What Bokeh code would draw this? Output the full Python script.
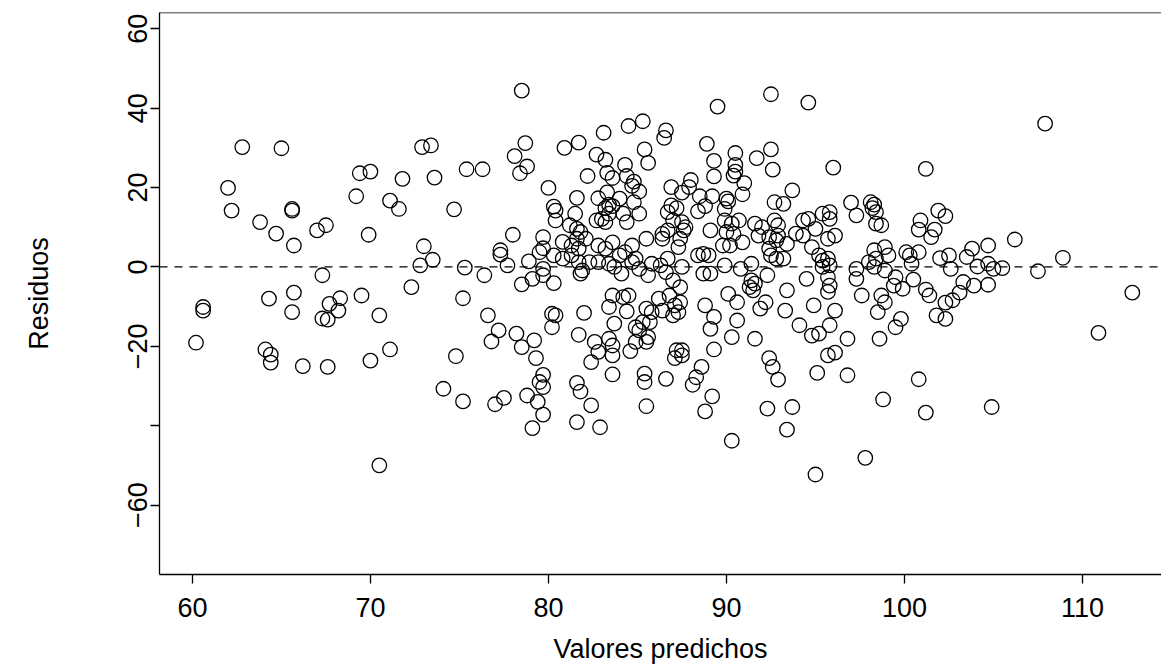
from bokeh.plotting import figure
from bokeh.models import Span, Range1d
from bokeh.embed import file_html
from bokeh.resources import INLINE

# (valor predicho, residuo), grouped by region
zona_izquierda = [
    (62.8, 30.2), (65.0, 29.9), (62.0, 19.9), (69.4, 23.6), (70.0, 24.0), (71.8, 22.2),
    (69.2, 17.8), (71.1, 16.7), (71.6, 14.6), (62.2, 14.2), (65.6, 14.6), (65.6, 14.2),
    (63.8, 11.3), (64.7, 8.4), (65.7, 5.4), (67.0, 9.2), (67.5, 10.5), (69.9, 8.1),
    (67.3, -2.1), (65.7, -6.5), (64.3, -8.0), (69.5, -7.2), (68.3, -7.9), (67.7, -9.3),
    (68.2, -11.0), (65.6, -11.4), (67.3, -13.0), (67.6, -13.3), (70.5, -12.2), (60.6, -10.1),
    (60.6, -11.0), (60.2, -19.1), (64.1, -20.8), (64.4, -22.1), (64.4, -24.1), (66.2, -25.0),
    (67.6, -25.2), (70.0, -23.6), (71.1, -20.8), (70.5, -50.0),
]
zona_centro_alta = [
    (78.5, 44.4), (72.9, 30.2), (73.4, 30.6), (78.7, 31.2), (78.1, 27.9), (78.8, 25.3),
    (78.4, 23.6), (75.4, 24.6), (76.3, 24.6), (73.6, 22.5), (74.7, 14.5), (80.0, 19.9),
    (80.9, 30.0), (81.7, 31.3), (83.1, 33.8), (84.5, 35.5), (85.3, 36.7), (82.7, 28.3),
    (83.2, 27.0), (85.4, 29.6), (85.6, 26.2), (84.3, 25.7), (83.3, 23.7), (83.6, 22.4),
    (82.2, 22.9), (84.4, 22.9), (84.8, 21.5), (84.7, 20.4), (85.1, 19.0), (83.3, 18.8),
    (84.0, 17.2), (82.8, 17.3), (81.6, 17.4), (84.8, 16.3), (83.4, 15.7), (83.6, 15.3),
    (83.2, 14.8), (80.3, 15.2), (80.4, 14.2), (81.5, 13.4), (84.2, 13.4), (85.1, 13.4),
    (92.5, 43.5), (89.5, 40.4), (94.6, 41.4), (86.6, 34.4), (86.5, 32.5), (88.9, 31.0),
    (92.5, 29.6), (90.5, 28.7), (89.3, 26.7), (91.7, 27.4), (90.5, 25.7), (90.5, 24.0),
    (90.4, 23.0), (92.6, 24.5), (96.0, 25.0), (89.3, 22.8), (91.0, 21.1), (88.0, 21.9),
    (86.9, 20.1), (87.9, 20.1), (87.5, 18.7), (93.7, 19.3), (90.9, 18.3), (88.5, 17.8),
    (89.2, 17.8), (90.0, 17.2), (90.1, 16.5), (92.7, 16.3), (93.2, 15.9), (97.0, 16.2),
    (98.1, 16.3), (98.3, 15.7), (98.2, 14.8), (86.9, 15.5), (87.2, 14.8), (88.8, 15.3),
    (88.4, 14.0), (89.9, 14.6),
]
zona_derecha = [
    (107.9, 36.1), (101.2, 24.7), (101.9, 14.2), (102.3, 12.8), (100.9, 11.7), (100.8, 9.4),
    (101.7, 9.4), (101.5, 7.5), (100.1, 3.7), (100.3, 2.9), (100.4, 0.8), (100.8, 3.7),
    (102.0, 2.2), (102.5, 2.9), (102.6, -0.5), (103.8, 4.6), (103.5, 2.5), (104.7, 5.4),
    (106.2, 6.9), (104.1, 0.1), (104.7, 0.8), (105.0, -0.5), (105.5, -0.3), (107.5, -1.1),
    (108.9, 2.3), (100.5, -3.2), (101.2, -5.7), (101.4, -7.2), (103.3, -3.8), (103.9, -4.7),
    (104.7, -4.5), (103.1, -6.5), (102.7, -8.4), (102.3, -9.0), (101.8, -12.2), (102.3, -13.1),
    (112.8, -6.5), (110.9, -16.6), (100.8, -28.3), (101.2, -36.7), (104.9, -35.3),
]
zona_centro_baja = [
    (87.2, -21.0), (87.5, -21.0), (87.5, -22.3), (87.1, -23.0), (89.3, -20.8), (88.6, -25.2),
    (88.3, -27.8), (88.1, -29.7), (86.6, -28.2), (89.2, -32.6), (88.8, -36.4), (92.4, -23.0),
    (92.6, -25.2), (92.9, -28.4), (92.3, -35.7), (93.7, -35.3), (93.4, -41.0), (90.3, -43.8),
    (95.7, -22.3), (96.1, -21.6), (95.1, -26.7), (96.8, -27.3), (98.8, -33.4), (97.8, -48.1),
    (95.0, -52.3),
    (74.8, -22.5), (78.5, -20.2), (79.3, -23.0), (74.1, -30.7), (75.2, -33.9), (77.0, -34.6),
    (77.5, -33.0), (78.8, -32.4), (79.4, -34.0), (79.7, -27.2), (79.5, -29.0), (79.7, -30.3),
    (79.7, -37.2), (79.1, -40.6), (81.6, -29.2), (81.8, -31.4), (82.4, -34.9), (81.6, -39.1),
    (82.9, -40.4), (82.8, -21.4), (82.4, -24.0), (83.6, -19.8), (83.6, -22.3), (83.6, -27.1),
    (84.6, -21.2), (85.4, -26.9), (85.4, -29.0), (85.5, -35.1),
]
zona_centro_a = [
    (78.0, 8.1), (73.0, 5.2), (73.5, 1.8), (72.8, 0.4), (72.3, -5.1), (75.3, -0.2),
    (76.4, -2.1), (77.3, 4.2), (77.3, 3.1), (77.7, 0.4), (75.2, -7.9), (76.6, -12.2),
    (77.2, -16.0), (78.2, -16.8), (79.2, -18.5), (76.8, -18.8), (78.5, -4.4), (79.1, -3.0),
    (78.9, 1.4), (79.7, -0.5), (79.7, -2.1), (80.3, -4.1), (79.5, 3.7), (79.7, 4.7),
    (79.7, 7.5), (80.3, 2.9), (80.2, -11.8), (80.4, -12.2), (80.2, -15.2), (82.0, -11.6),
    (81.7, -17.1), (80.4, 11.7), (81.2, 10.5), (81.6, 9.6), (81.8, 8.8), (80.8, 6.3),
    (81.3, 5.4), (81.7, 4.6), (82.1, 7.1), (81.6, 7.1), (80.8, 2.1), (81.3, 2.9),
    (81.7, 1.2), (81.9, -0.9), (81.8, -1.7), (82.7, 11.7), (83.0, 12.1), (83.2, 11.3),
    (83.4, 13.4), (84.4, 11.3), (82.8, 5.4), (83.2, 4.6), (83.6, 6.2), (84.0, 2.9),
    (84.3, 3.7), (84.7, 5.4), (84.9, 2.1), (85.1, -0.5), (85.5, 7.1), (85.6, -2.1),
    (86.4, 7.1), (82.3, 1.2), (82.8, 1.2), (83.4, 0.8), (83.7, 0.0), (84.1, -1.7),
    (84.7, 1.2), (85.8, 0.8), (83.6, -7.2), (84.2, -7.6), (84.5, -7.2), (83.4, -10.1),
    (84.4, -11.2), (85.5, -10.5), (85.8, -11.4), (86.2, -8.0), (83.7, -14.3), (84.9, -15.2),
    (85.1, -16.0), (85.3, -13.9), (85.7, -13.9), (85.6, -17.7), (83.4, -18.1), (82.6, -18.9),
    (84.9, -18.9), (85.5, -18.9),
]
zona_centro_b = [
    (86.7, 13.8), (87.0, 11.7), (87.5, 11.3), (87.7, 10.0), (87.6, 9.2), (89.9, 11.7),
    (90.3, 10.9), (90.7, 11.7), (90.0, 8.8), (90.4, 8.3), (90.2, 5.4), (89.8, 5.4),
    (90.9, 6.2), (89.1, 9.2), (86.4, 8.3), (86.7, 9.2), (86.3, 0.4), (86.7, 2.1),
    (86.6, -1.3), (87.4, 7.1), (87.3, 5.0), (87.5, 0.0), (87.4, -5.1), (87.0, -3.4),
    (86.8, -7.2), (86.4, -11.0), (87.1, -9.7), (87.3, -11.4), (87.0, -12.2), (87.4, -8.9),
    (88.4, 2.9), (88.7, 3.3), (89.0, 2.9), (88.7, -1.7), (89.1, -1.7), (89.9, 0.4),
    (90.8, -0.5), (91.4, 0.8), (91.4, -3.4), (91.3, -5.1), (91.6, -4.2), (91.5, -5.9),
    (90.1, -6.8), (90.6, -8.9), (88.8, -9.7), (89.3, -12.6), (89.1, -15.6), (90.6, -13.5),
    (90.3, -17.7), (91.6, -18.1), (91.9, -10.5), (92.2, -8.9), (91.6, 10.9), (92.0, 10.0),
    (92.7, 11.7), (92.9, 10.5), (91.8, 7.9), (92.4, 7.5), (92.8, 6.7), (92.9, 7.9),
    (93.4, 5.8), (92.4, 4.6), (92.5, 2.9), (92.8, 2.1), (93.2, 2.1), (92.3, -2.1),
    (93.9, 8.4), (94.3, 7.9), (94.3, 11.7), (94.6, 12.1), (95.0, 9.6), (94.8, 5.0),
    (95.4, 13.4), (95.8, 13.8), (95.8, 12.1), (95.7, 7.1), (96.1, 7.9), (95.2, 2.9),
    (95.4, 1.6), (95.7, 2.1), (95.4, 0.0), (95.8, 0.4), (94.5, -3.0), (95.7, -2.6),
    (95.8, -4.7), (95.7, -6.3), (93.4, -5.9), (93.3, -11.0), (94.9, -9.7), (96.1, -11.0),
    (95.8, -14.7), (94.1, -14.7), (94.8, -17.3), (95.2, -16.8), (97.3, 13.0), (98.4, 13.8),
    (98.4, 10.9), (98.7, 10.5), (98.3, 4.2), (98.9, 5.0), (99.1, 2.9), (98.4, 2.1),
    (98.0, 1.2), (98.3, 0.0), (97.3, -0.5), (97.3, -3.0), (98.9, -0.9), (99.5, -2.6),
    (99.4, -4.7), (99.9, -5.5), (97.6, -7.2), (98.7, -7.2), (98.9, -8.9), (98.5, -11.4),
    (99.8, -13.1), (99.5, -15.2), (98.6, -18.1), (96.8, -18.1),
]

x_ticks = [60, 70, 80, 90, 100, 110]
y_ticks = [-60, -40, -20, 0, 20, 40, 60]
y_tick_labels = {-60: "\u221260", -40: "", -20: "\u221220", 0: "0", 20: "20", 40: "40", 60: "60"}
x_label = "Valores predichos"
y_label = "Residuos"

puntos = zona_izquierda + zona_centro_alta + zona_derecha + zona_centro_baja + zona_centro_a + zona_centro_b
predichos = [p[0] for p in puntos]
residuos = [p[1] for p in puntos]

X0, X1 = 58.15, 114.44
Y0, Y1 = -77.5, 64.1

p = figure(width=1161, height=672, output_backend="svg", toolbar_location=None,
           x_range=Range1d(X0, X1), y_range=Range1d(Y0, Y1),
           min_border_left=159, min_border_right=0, min_border_top=12, min_border_bottom=98,
           background_fill_color="white", border_fill_color="white")
p.outline_line_color = None
p.grid.visible = False

p.scatter(predichos, residuos, marker="circle", size=14.5, fill_color=None,
          line_color="black", line_width=1.3)

p.add_layout(Span(location=0, dimension="width", line_color="black",
                  line_dash="8 7", line_width=1.3))
p.add_layout(Span(location=Y1, dimension="width", line_color="black", line_width=1.3))

FONT = "Liberation Sans"
for ax in (p.xaxis[0], p.yaxis[0]):
    ax.axis_line_width = 1.3
    ax.axis_line_color = "black"
    ax.major_tick_line_width = 1.3
    ax.major_tick_line_color = "black"
    ax.major_tick_out = 9
    ax.major_tick_in = 0
    ax.minor_tick_line_color = None
    ax.major_label_text_font = FONT
    ax.major_label_text_font_size = "27px"
    ax.major_label_text_color = "black"
    ax.axis_label_text_font = FONT
    ax.axis_label_text_font_size = "27px"
    ax.axis_label_text_font_style = "normal"
    ax.axis_label_text_color = "black"

p.xaxis.ticker = x_ticks
p.yaxis.ticker = y_ticks
p.yaxis.major_label_overrides = y_tick_labels
p.yaxis.major_label_orientation = "vertical"
p.xaxis.axis_label = x_label
p.yaxis.axis_label = y_label
p.xaxis.major_label_standoff = 14
p.xaxis.axis_label_standoff = 14
p.yaxis.major_label_standoff = 3
p.yaxis.axis_label_standoff = 72

open("out.html", "w").write(file_html(p, INLINE))
